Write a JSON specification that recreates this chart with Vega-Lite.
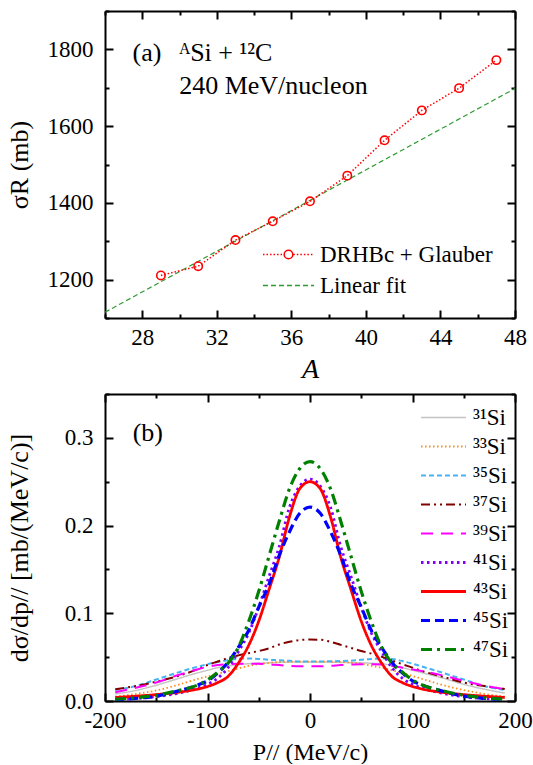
{
  "$schema": "https://vega.github.io/schema/vega-lite/v6.json",
  "background": "white",
  "padding": {"left": 6, "top": 0, "right": 0, "bottom": 0},
  "bounds": "flush",
  "spacing": 76,
  "resolve": {"scale": {"color": "independent", "shape": "independent", "strokeDash": "independent", "strokeWidth": "independent"}},
  "config": {
    "view": {"stroke": null},
    "font": "Liberation Serif",
    "axis": {
      "grid": false, "domainColor": "black", "domainWidth": 2, "tickColor": "black", "tickWidth": 2,
      "labelFont": "Liberation Serif", "labelFontSize": 23, "labelColor": "black", "labelOverlap": false, "labelFlush": false,
      "titleFont": "Liberation Serif", "titleFontWeight": "normal", "titleColor": "black", "zindex": 1
    },
    "legend": {"labelFont": "Liberation Serif", "labelColor": "black", "padding": 0, "labelLimit": 300}
  },
  "datasets": {
    "sigmaR": [
      {"A": 29, "sigma": 1211}, {"A": 31, "sigma": 1235}, {"A": 33, "sigma": 1303}, {"A": 35, "sigma": 1352},
      {"A": 37, "sigma": 1404}, {"A": 39, "sigma": 1471}, {"A": 41, "sigma": 1563}, {"A": 43, "sigma": 1641},
      {"A": 45, "sigma": 1699}, {"A": 47, "sigma": 1772}
    ],
    "fit": [{"A": 26, "sigma": 1115}, {"A": 48, "sigma": 1698}],
    "keysA": [{"series": "DRHBc + Glauber"}, {"series": "Linear fit"}],
    "one": [{}],
    "dist": [
      {"p": -190, "s31": 0.008, "s33": 0.005, "s35": 0.0125, "s37": 0.0135, "s39": 0.010, "s41": 0.0015, "s43": 0.004, "s45": 0.0015, "s47": 0.002},
      {"p": -170, "s31": 0.012, "s33": 0.008, "s35": 0.017, "s37": 0.017, "s39": 0.015, "s41": 0.0028, "s43": 0.0055, "s45": 0.003, "s47": 0.0038},
      {"p": -150, "s31": 0.018, "s33": 0.012, "s35": 0.0245, "s37": 0.022, "s39": 0.021, "s41": 0.005, "s43": 0.0073, "s45": 0.0055, "s47": 0.0065},
      {"p": -130, "s31": 0.025, "s33": 0.018, "s35": 0.032, "s37": 0.028, "s39": 0.029, "s41": 0.0085, "s43": 0.0098, "s45": 0.011, "s47": 0.0115},
      {"p": -110, "s31": 0.032, "s33": 0.025, "s35": 0.039, "s37": 0.036, "s39": 0.036, "s41": 0.0145, "s43": 0.0135, "s45": 0.018, "s47": 0.018},
      {"p": -100, "s31": 0.035, "s33": 0.028, "s35": 0.042, "s37": 0.041, "s39": 0.039, "s41": 0.019, "s43": 0.0165, "s45": 0.023, "s47": 0.024},
      {"p": -90, "s31": 0.038, "s33": 0.031, "s35": 0.0445, "s37": 0.045, "s39": 0.041, "s41": 0.026, "s43": 0.021, "s45": 0.032, "s47": 0.033},
      {"p": -80, "s31": 0.040, "s33": 0.034, "s35": 0.0465, "s37": 0.049, "s39": 0.042, "s41": 0.038, "s43": 0.028, "s45": 0.044, "s47": 0.043},
      {"p": -70, "s31": 0.0415, "s33": 0.037, "s35": 0.048, "s37": 0.052, "s39": 0.0425, "s41": 0.056, "s43": 0.043, "s45": 0.061, "s47": 0.061},
      {"p": -60, "s31": 0.0425, "s33": 0.040, "s35": 0.0485, "s37": 0.0545, "s39": 0.0425, "s41": 0.077, "s43": 0.063, "s45": 0.080, "s47": 0.090},
      {"p": -50, "s31": 0.043, "s33": 0.042, "s35": 0.048, "s37": 0.057, "s39": 0.0425, "s41": 0.107, "s43": 0.091, "s45": 0.107, "s47": 0.125},
      {"p": -40, "s31": 0.0435, "s33": 0.0435, "s35": 0.047, "s37": 0.060, "s39": 0.0415, "s41": 0.142, "s43": 0.127, "s45": 0.133, "s47": 0.165},
      {"p": -30, "s31": 0.044, "s33": 0.0445, "s35": 0.0465, "s37": 0.0645, "s39": 0.041, "s41": 0.176, "s43": 0.164, "s45": 0.166, "s47": 0.205},
      {"p": -20, "s31": 0.0443, "s33": 0.045, "s35": 0.0458, "s37": 0.0675, "s39": 0.040, "s41": 0.221, "s43": 0.210, "s45": 0.193, "s47": 0.242},
      {"p": -10, "s31": 0.0445, "s33": 0.045, "s35": 0.045, "s37": 0.0695, "s39": 0.0395, "s41": 0.245, "s43": 0.242, "s45": 0.214, "s47": 0.265},
      {"p": 0, "s31": 0.0445, "s33": 0.045, "s35": 0.045, "s37": 0.070, "s39": 0.0395, "s41": 0.253, "s43": 0.250, "s45": 0.221, "s47": 0.273},
      {"p": 10, "s31": 0.0445, "s33": 0.045, "s35": 0.045, "s37": 0.0698, "s39": 0.0395, "s41": 0.245, "s43": 0.242, "s45": 0.214, "s47": 0.265},
      {"p": 20, "s31": 0.0443, "s33": 0.045, "s35": 0.0453, "s37": 0.0675, "s39": 0.040, "s41": 0.221, "s43": 0.210, "s45": 0.193, "s47": 0.242},
      {"p": 30, "s31": 0.044, "s33": 0.0445, "s35": 0.0455, "s37": 0.064, "s39": 0.041, "s41": 0.176, "s43": 0.164, "s45": 0.166, "s47": 0.205},
      {"p": 40, "s31": 0.0437, "s33": 0.0437, "s35": 0.046, "s37": 0.0605, "s39": 0.0415, "s41": 0.142, "s43": 0.127, "s45": 0.133, "s47": 0.165},
      {"p": 50, "s31": 0.0435, "s33": 0.0425, "s35": 0.047, "s37": 0.057, "s39": 0.042, "s41": 0.107, "s43": 0.091, "s45": 0.107, "s47": 0.125},
      {"p": 60, "s31": 0.043, "s33": 0.040, "s35": 0.048, "s37": 0.054, "s39": 0.042, "s41": 0.077, "s43": 0.063, "s45": 0.080, "s47": 0.090},
      {"p": 70, "s31": 0.0425, "s33": 0.038, "s35": 0.0485, "s37": 0.0505, "s39": 0.0415, "s41": 0.056, "s43": 0.043, "s45": 0.061, "s47": 0.061},
      {"p": 80, "s31": 0.0405, "s33": 0.035, "s35": 0.048, "s37": 0.046, "s39": 0.040, "s41": 0.038, "s43": 0.028, "s45": 0.044, "s47": 0.043},
      {"p": 90, "s31": 0.038, "s33": 0.032, "s35": 0.0455, "s37": 0.042, "s39": 0.038, "s41": 0.026, "s43": 0.021, "s45": 0.032, "s47": 0.033},
      {"p": 100, "s31": 0.035, "s33": 0.0285, "s35": 0.0425, "s37": 0.038, "s39": 0.036, "s41": 0.019, "s43": 0.0165, "s45": 0.023, "s47": 0.024},
      {"p": 110, "s31": 0.032, "s33": 0.025, "s35": 0.039, "s37": 0.034, "s39": 0.034, "s41": 0.0145, "s43": 0.0135, "s45": 0.018, "s47": 0.018},
      {"p": 130, "s31": 0.026, "s33": 0.018, "s35": 0.032, "s37": 0.0275, "s39": 0.029, "s41": 0.0085, "s43": 0.0098, "s45": 0.011, "s47": 0.0115},
      {"p": 150, "s31": 0.019, "s33": 0.0125, "s35": 0.0245, "s37": 0.021, "s39": 0.023, "s41": 0.005, "s43": 0.0073, "s45": 0.0055, "s47": 0.0065},
      {"p": 170, "s31": 0.0135, "s33": 0.008, "s35": 0.017, "s37": 0.017, "s39": 0.0175, "s41": 0.0028, "s43": 0.0055, "s45": 0.003, "s47": 0.0038},
      {"p": 190, "s31": 0.009, "s33": 0.005, "s35": 0.0125, "s37": 0.0138, "s39": 0.0135, "s41": 0.0015, "s43": 0.004, "s45": 0.0015, "s47": 0.002}
    ]
  },
  "vconcat": [
    {
      "width": 410,
      "height": 307,
      "resolve": {"axis": {"x": "independent", "y": "independent"}},
      "layer": [
        {
          "data": {"name": "fit"},
          "mark": {"type": "line", "color": "#2f9a2f", "strokeWidth": 1.2, "strokeDash": [5, 3], "clip": true},
          "encoding": {
            "x": {"field": "A", "type": "quantitative", "scale": {"domain": [26, 48], "nice": false, "zero": false},
              "axis": {"orient": "bottom", "values": [26, 28, 30, 32, 34, 36, 38, 40, 42, 44, 46, 48],
                "tickSize": {"condition": {"test": "datum.value % 4 == 0", "value": -8}, "value": -4},
                "labelExpr": "datum.value % 4 == 0 ? datum.label : ''", "labelPadding": 16,
                "title": "A", "titleFontSize": 28, "titleFontStyle": "italic", "titlePadding": 2}},
            "y": {"field": "sigma", "type": "quantitative", "scale": {"domain": [1100, 1900], "nice": false, "zero": false},
              "axis": {"orient": "left", "values": [1100, 1200, 1300, 1400, 1500, 1600, 1700, 1800, 1900], "format": "d",
                "tickSize": {"condition": {"test": "datum.value % 200 == 0", "value": -8}, "value": -4},
                "labelExpr": "datum.value % 200 == 0 ? datum.label : ''", "labelPadding": 20,
                "title": "σR (mb)", "titleFontSize": 26, "titlePadding": 15}}
          }
        },
        {
          "data": {"name": "sigmaR"},
          "mark": {"type": "line", "color": "#ff0000", "strokeWidth": 1.5, "strokeDash": [1.5, 2]},
          "encoding": {
            "x": {"field": "A", "type": "quantitative", "axis": null},
            "y": {"field": "sigma", "type": "quantitative", "axis": null}
          }
        },
        {
          "data": {"name": "sigmaR"},
          "mark": {"type": "point", "shape": "circle", "filled": false, "color": "#ff0000", "size": 70, "strokeWidth": 1.6, "opacity": 1},
          "encoding": {
            "x": {"field": "A", "type": "quantitative", "axis": null},
            "y": {"field": "sigma", "type": "quantitative", "axis": null}
          }
        },
        {
          "data": {"name": "one"},
          "mark": {"type": "text", "text": "(a)", "align": "left", "baseline": "middle", "fontSize": 26, "font": "Liberation Serif", "color": "black"},
          "encoding": {
            "x": {"datum": 27.48, "type": "quantitative", "axis": null},
            "y": {"datum": 1791, "type": "quantitative", "axis": null}
          }
        },
        {
          "data": {"name": "one"},
          "mark": {"type": "text", "text": "ᴬSi + ¹²C", "align": "left", "baseline": "middle", "fontSize": 26, "font": "Liberation Serif", "color": "black"},
          "encoding": {
            "x": {"datum": 29.98, "type": "quantitative",
              "axis": {"orient": "top", "values": [26, 28, 30, 32, 34, 36, 38, 40, 42, 44, 46, 48], "labels": false, "title": null,
                "tickSize": {"condition": {"test": "datum.value % 4 == 0", "value": -8}, "value": -4}}},
            "y": {"datum": 1791, "type": "quantitative",
              "axis": {"orient": "right", "values": [1100, 1200, 1300, 1400, 1500, 1600, 1700, 1800, 1900], "labels": false, "title": null,
                "tickSize": {"condition": {"test": "datum.value % 200 == 0", "value": -8}, "value": -4}}}
          }
        },
        {
          "data": {"name": "one"},
          "mark": {"type": "text", "text": "240 MeV/nucleon", "align": "left", "baseline": "middle", "fontSize": 26, "font": "Liberation Serif", "color": "black"},
          "encoding": {
            "x": {"datum": 29.98, "type": "quantitative", "axis": null},
            "y": {"datum": 1704, "type": "quantitative", "axis": null}
          }
        },
        {
          "data": {"name": "keysA"},
          "mark": {"type": "point", "filled": false, "opacity": 0, "strokeWidth": 1.5},
          "encoding": {
            "shape": {"field": "series", "type": "nominal",
              "scale": {"domain": ["DRHBc + Glauber", "Linear fit"],
                "range": [
                  "M-3.19,0L-3.0,0M-2.75,0L-2.56,0M-2.31,0L-2.12,0M-1.87,0L-1.68,0M-1.43,0L-1.24,0M-0.99,0L-0.8,0M0.6,0L0.79,0M1.04,0L1.23,0M1.48,0L1.67,0M1.92,0L2.11,0M2.36,0L2.55,0M2.8,0L2.99,0M-0.54,0A0.54,0.54 0 1,1 0.54,0A0.54,0.54 0 1,1 -0.54,0",
                  "M-3.19,0L-2.56,0M-2.19,0L-1.56,0M-1.19,0L-0.56,0M-0.19,0L0.44,0M0.81,0L1.44,0M1.81,0L2.44,0M2.81,0L3.19,0"
                ]},
              "legend": {"orient": "none", "legendX": 172, "legendY": 232, "title": null, "symbolSize": 256,
                "labelFont": "Liberation Serif", "labelFontSize": 23, "labelOffset": 20, "rowPadding": 7, "symbolStrokeWidth": 1.5, "symbolOpacity": 1}},
            "color": {"field": "series", "type": "nominal",
              "scale": {"domain": ["DRHBc + Glauber", "Linear fit"], "range": ["#ff0000", "#2f9a2f"]}}
          }
        }
      ]
    },
    {
      "width": 410,
      "height": 307,
      "resolve": {"axis": {"x": "independent", "y": "independent"}},
      "layer": [
        {
          "data": {"name": "dist"},
          "transform": [{"fold": ["s31", "s33", "s35", "s37", "s39", "s41", "s43", "s45", "s47"], "as": ["iso", "v"]}],
          "mark": {"type": "line", "interpolate": "monotone", "clip": true},
          "encoding": {
            "x": {"field": "p", "type": "quantitative", "scale": {"domain": [-200, 200], "nice": false, "zero": false},
              "axis": {"orient": "bottom", "values": [-200, -150, -100, -50, 0, 50, 100, 150, 200],
                "tickSize": {"condition": {"test": "datum.value % 100 == 0", "value": -8}, "value": -4},
                "labelExpr": "datum.value % 100 == 0 ? replace(datum.label, '−', '-') : ''", "labelPadding": 16,
                "title": "P// (MeV/c)", "titleFontSize": 24, "titlePadding": 4}},
            "y": {"field": "v", "type": "quantitative", "scale": {"domain": [0, 0.35], "nice": false, "zero": false},
              "axis": {"orient": "left", "values": [0, 0.05, 0.1, 0.15, 0.2, 0.25, 0.3, 0.35],
                "tickSize": {"condition": {"test": "round(datum.value*100) % 10 == 0", "value": -8}, "value": -4},
                "labelExpr": "round(datum.value*100) % 10 == 0 ? format(datum.value, '.1f') : ''", "labelPadding": 20,
                "title": "dσ/dp// [mb/(MeV/c)]", "titleFontSize": 26, "titlePadding": 32}},
            "color": {"field": "iso", "type": "nominal",
              "scale": {"domain": ["s31", "s33", "s35", "s37", "s39", "s41", "s43", "s45", "s47"],
                "range": ["#c4c4c4", "#ff8c1a", "#45b4f0", "#800000", "#ff00ff", "#8000ff", "#ff0000", "#0000ff", "#008000"]},
              "legend": {"orient": "none", "legendX": 327, "legendY": 12, "title": null, "symbolType": "M-3,0L3,0", "symbolSize": 225,
                "labelExpr": "{'s31':'³¹Si','s33':'³³Si','s35':'³⁵Si','s37':'³⁷Si','s39':'³⁹Si','s41':'⁴¹Si','s43':'⁴³Si','s45':'⁴⁵Si','s47':'⁴⁷Si'}[datum.value]",
                "labelFont": "Liberation Serif", "labelFontSize": 23, "labelOffset": 18, "rowPadding": 5}},
            "strokeDash": {"field": "iso", "type": "nominal",
              "scale": {"domain": ["s31", "s33", "s35", "s37", "s39", "s41", "s43", "s45", "s47"],
                "range": [[1, 0], [1.5, 2.5], [5, 3], [9, 4, 2, 4, 2, 4], [12, 8], [2.5, 3.5], [1, 0], [9, 5], [11, 5, 3, 5]]}},
            "strokeWidth": {"field": "iso", "type": "nominal",
              "scale": {"type": "ordinal", "domain": ["s31", "s33", "s35", "s37", "s39", "s41", "s43", "s45", "s47"],
                "range": [1.5, 1.8, 2, 2, 2, 2.8, 2.8, 3.2, 3.2]}}
          }
        },
        {
          "data": {"name": "one"},
          "mark": {"type": "text", "text": "(b)", "align": "left", "baseline": "middle", "fontSize": 26, "font": "Liberation Serif", "color": "black"},
          "encoding": {
            "x": {"datum": -173, "type": "quantitative",
              "axis": {"orient": "top", "values": [-200, -150, -100, -50, 0, 50, 100, 150, 200], "labels": false, "title": null,
                "tickSize": {"condition": {"test": "datum.value % 100 == 0", "value": -8}, "value": -4}}},
            "y": {"datum": 0.306, "type": "quantitative",
              "axis": {"orient": "right", "values": [0, 0.05, 0.1, 0.15, 0.2, 0.25, 0.3, 0.35], "labels": false, "title": null,
                "tickSize": {"condition": {"test": "round(datum.value*100) % 10 == 0", "value": -8}, "value": -4}}}
          }
        }
      ]
    }
  ]
}
